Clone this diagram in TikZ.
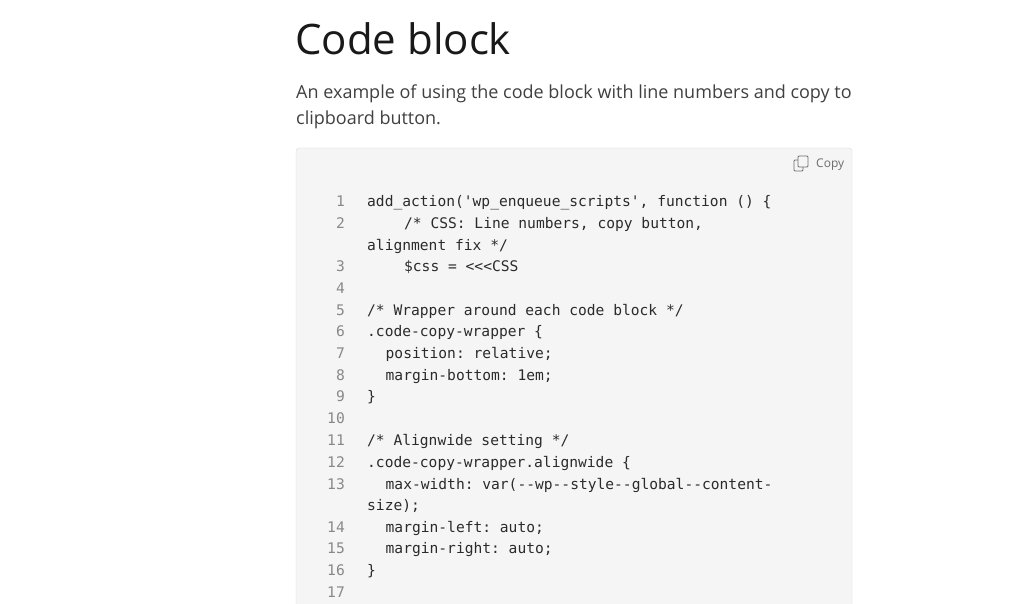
\documentclass[tikz,border=0pt]{standalone}
\usepackage{fontspec}
\setmainfont{Open Sans}
\setmonofont{DejaVu Sans Mono}
\definecolor{boxfill}{HTML}{F5F5F5}
\definecolor{boxline}{HTML}{DDDDDD}
\definecolor{numgray}{HTML}{888888}
\definecolor{codeink}{HTML}{2B2B2B}
\tikzset{
  codetext/.style={anchor=mid west,inner sep=0pt,text=codeink,font=\fontsize{14.6}{16}\ttfamily},
  numtext/.style={anchor=mid east,inner sep=0pt,text=numgray,font=\fontsize{14.6}{16}\ttfamily},
  introtext/.style={anchor=base west,inner sep=0pt,text=black!75,font=\fontsize{18}{24}\selectfont},
}
% number, y, indent in characters, code
\newcommand{\codeln}[4]{%
  \node[numtext] (n#1) at (345,#2+3) {#1};
  \node[codetext] (c#1) at ({367+#3*9.24},#2+3) {#4};}
\begin{document}
\begin{tikzpicture}[x=1pt,y=-1pt]
  \useasboundingbox (0,0) rectangle (1024,604);
  \fill[white] (0,0) rectangle (1024,604);
  \node[anchor=base west,inner sep=0pt,font=\fontsize{42}{48}\selectfont,text=black!90] (title) at (295,55) {Code block};
  \node[introtext] (intro1) at (296,99) {An example of using the code block with line numbers and copy to};
  \node[introtext] (intro2) at (296,125) {clipboard button.};
  \draw[boxline,fill=boxfill,rounded corners=3pt] (296,148) rectangle (852,620);
  % copy button
  \draw[numgray!80!black,rounded corners=1pt,line width=0.9pt] (794,160) rectangle (803,171);
  \draw[numgray!80!black,fill=boxfill,rounded corners=1pt,line width=0.9pt] (798,156) rectangle (808,167);
  \node[anchor=mid west,inner sep=0pt,text=numgray!80!black,font=\fontsize{12}{14}\selectfont] (copy) at (816,165) {Copy};
  % code lines
  \codeln{1}{201}{0}{add\_action('wp\_enqueue\_scripts', function () \{}
  \codeln{2}{223}{4}{/* CSS: Line numbers, copy button,}
  \node[codetext] (c2b) at (367,248) {alignment fix */};
  \codeln{3}{266}{4}{\$css = <{}<{}<CSS}
  \codeln{4}{288}{0}{}
  \codeln{5}{310}{0}{/* Wrapper around each code block */}
  \codeln{6}{331}{0}{.code-copy-wrapper \{}
  \codeln{7}{353}{2}{position: relative;}
  \codeln{8}{375}{2}{margin-bottom: 1em;}
  \codeln{9}{396}{0}{\}}
  \codeln{10}{418}{0}{}
  \codeln{11}{440}{0}{/* Alignwide setting */}
  \codeln{12}{462}{0}{.code-copy-wrapper.alignwide \{}
  \codeln{13}{484}{2}{max-width: var(-{}-wp-{}-style-{}-global-{}-content-}
  \node[codetext] (c13b) at (367,508) {size);};
  \codeln{14}{527}{2}{margin-left: auto;}
  \codeln{15}{548}{2}{margin-right: auto;}
  \codeln{16}{570}{0}{\}}
  \codeln{17}{592}{0}{}
\end{tikzpicture}
\end{document}
